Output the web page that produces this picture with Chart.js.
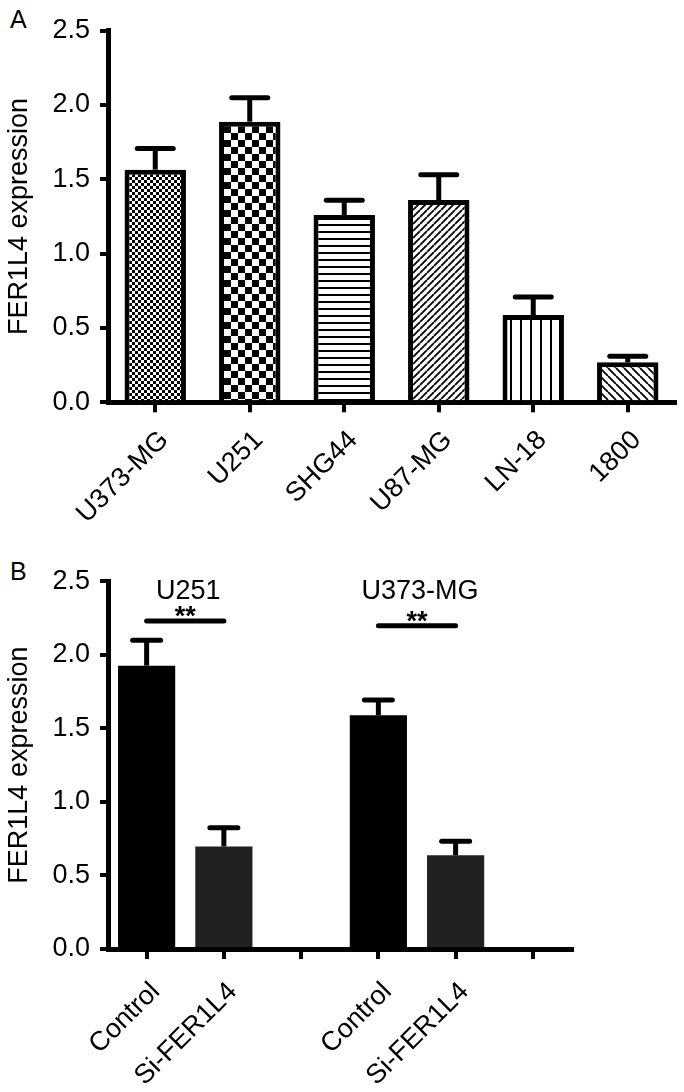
<!DOCTYPE html>
<html>
<head>
<meta charset="utf-8">
<script src="https://cdn.jsdelivr.net/npm/chart.js@4/dist/chart.umd.min.js"></script>
<style>
  body { margin: 0; background: #fff; width: 684px; height: 1092px; position: relative; overflow: hidden; }
  .panel { position: absolute; left: 0; }
  .tag { position: absolute; left: 10px; font: 25px Arial, "Liberation Sans", sans-serif; color: #000; }
</style>
</head>
<body>
<div class="tag" style="top: 5px;">A</div>
<div class="tag" style="top: 557px;">B</div>
<div class="panel" style="top: 0;"><canvas id="chartA" width="684" height="560"></canvas></div>
<div class="panel" style="top: 555px;"><canvas id="chartB" width="684" height="537"></canvas></div>
<script>
// panel A
const cellLines = ['U373-MG', 'U251', 'SHG44', 'U87-MG', 'LN-18', '1800'];
const exprA = [1.565, 1.888, 1.26, 1.361, 0.587, 0.269];
const semA = [0.143, 0.161, 0.10, 0.17, 0.122, 0.04];

// panel B
const groupsB = ['Control', 'Si-FER1L4', '', 'Control', 'Si-FER1L4', ''];
const exprB = [1.926, 0.697, null, 1.589, 0.637, null];
const semB = [0.173, 0.127, null, 0.103, 0.096, null];
const sigTitles = ['U251', 'U373-MG'];
const sigPairs = [[0, 1], [3, 4]];
const sigLevels = [2.229, 2.197];
const sigMarks = ['**', '**'];
const titleLevel = 2.43;

const yTicks = [0, 0.5, 1.0, 1.5, 2.0, 2.5];

const FONT = 'Arial, "Liberation Sans", sans-serif';

function makePattern(size, draw) {
  const c = document.createElement('canvas');
  c.width = size;
  c.height = size;
  const g = c.getContext('2d');
  g.fillStyle = '#fff';
  g.fillRect(0, 0, size, size);
  g.fillStyle = '#000';
  g.strokeStyle = '#000';
  draw(g, size);
  return g.createPattern(c, 'repeat');
}

const checker = (sq) => makePattern(sq * 2, (g) => {
  g.fillRect(0, 0, sq, sq);
  g.fillRect(sq, sq, sq, sq);
});
const hLines = makePattern(7, (g, s) => g.fillRect(0, 0, s, 2));
const vLines = makePattern(10, (g, s) => g.fillRect(0, 0, 2, s));
const diag = (s, up) => makePattern(s, (g) => {
  g.lineWidth = 1.8;
  g.beginPath();
  [-s, 0, s].forEach((k) => {
    if (up) { g.moveTo(k, s); g.lineTo(k + s, 0); }
    else { g.moveTo(k, 0); g.lineTo(k + s, s); }
  });
  g.stroke();
});

const fillsA = [checker(3), checker(7), hLines, diag(7, true), vLines, diag(8, false)];

const extras = {
  id: 'extras',
  afterDatasetsDraw(chart, args, opts) {
    const ctx = chart.ctx;
    const y = chart.scales.y;
    const x = chart.scales.x;
    const meta = chart.getDatasetMeta(0);
    const vals = chart.data.datasets[0].data;
    ctx.save();
    ctx.strokeStyle = '#000';
    opts.errors.forEach((e, i) => {
      if (e == null || vals[i] == null) return;
      const bx = meta.data[i].x;
      const y0 = y.getPixelForValue(vals[i]);
      const y1 = y.getPixelForValue(vals[i] + e);
      ctx.lineWidth = opts.lineWidth;
      ctx.lineCap = 'butt';
      ctx.beginPath();
      ctx.moveTo(bx, y0);
      ctx.lineTo(bx, y1);
      ctx.stroke();
      ctx.lineCap = 'round';
      ctx.beginPath();
      ctx.moveTo(bx - opts.capWidth / 2, y1);
      ctx.lineTo(bx + opts.capWidth / 2, y1);
      ctx.stroke();
    });
    (opts.sig || []).forEach((s) => {
      const xa = x.getPixelForValue(s.pair[0]);
      const xb = x.getPixelForValue(s.pair[1]);
      const ly = y.getPixelForValue(s.level);
      ctx.lineWidth = 5;
      ctx.lineCap = 'round';
      ctx.beginPath();
      ctx.moveTo(xa, ly);
      ctx.lineTo(xb, ly);
      ctx.stroke();
      ctx.fillStyle = '#000';
      ctx.textAlign = 'center';
      ctx.textBaseline = 'alphabetic';
      ctx.font = 'bold 27px ' + FONT;
      ctx.fillText(s.mark, (xa + xb) / 2, ly + 4);
      ctx.textBaseline = 'middle';
      ctx.font = '27px ' + FONT;
      ctx.fillText(s.title, (xa + xb) / 2 + 3, y.getPixelForValue(titleLevel));
    });
    ctx.restore();
  },
};

function baseOptions(xHeight, padRight, top, labelPad) {
  return {
    responsive: false,
    animation: false,
    layout: { padding: { top: top, right: padRight, left: 0, bottom: 0 } },
    plugins: { legend: { display: false }, tooltip: { enabled: false } },
    scales: {
      x: {
        offset: true,
        grid: { display: true, offset: false, drawOnChartArea: false, drawTicks: true, tickLength: 10, lineWidth: 4, color: '#000' },
        border: { display: true, width: 5, color: '#000' },
        ticks: {
          color: '#000',
          font: { family: FONT, size: 27 },
          minRotation: 45,
          maxRotation: 45,
          autoSkip: false,
          padding: labelPad,
          labelOffset: 9,
        },
        afterFit: (scale) => { scale.height = xHeight; },
      },
      y: {
        min: 0,
        max: 2.5,
        afterBuildTicks: (scale) => { scale.ticks = yTicks.map((v) => ({ value: v })); },
        grid: { display: true, drawOnChartArea: false, drawTicks: true, tickLength: 8, lineWidth: 4, color: '#000' },
        border: { display: true, width: 5, color: '#000' },
        ticks: { color: '#000', font: { family: FONT, size: 27 }, padding: 10, callback: (v) => Number(v).toFixed(1) },
        title: { display: true, text: 'FER1L4 expression', color: '#000', font: { family: FONT, size: 27 }, padding: { top: 3, bottom: 0 } },
        afterFit: (scale) => { scale.width = 108; },
      },
    },
  };
}

const optsA = baseOptions(560 - 402.3, 9, 30.7, 12);
optsA.plugins.extras = { errors: semA, capWidth: 36, lineWidth: 5 };

new Chart(document.getElementById('chartA'), {
  type: 'bar',
  data: {
    labels: cellLines,
    datasets: [
      {
        data: exprA,
        backgroundColor: fillsA,
        borderColor: '#000',
        borderWidth: 5,
        borderSkipped: 'start',
        categoryPercentage: 1,
        barPercentage: 0.65,
      },
    ],
  },
  options: optsA,
  plugins: [extras],
});

const optsB = baseOptions(537 - 394, 684 - 571.5, 22.3, 17);
optsB.plugins.extras = {
  errors: semB,
  capWidth: 28,
  lineWidth: 5,
  sig: sigPairs.map((p, i) => ({ pair: p, level: sigLevels[i], mark: sigMarks[i], title: sigTitles[i] })),
};

new Chart(document.getElementById('chartB'), {
  type: 'bar',
  data: {
    labels: groupsB,
    datasets: [
      {
        data: exprB,
        backgroundColor: ['#000', '#212121', '#000', '#000', '#212121', '#000'],
        borderWidth: 0,
        categoryPercentage: 1,
        barPercentage: 0.74,
      },
    ],
  },
  options: optsB,
  plugins: [extras],
});
</script>
</body>
</html>
